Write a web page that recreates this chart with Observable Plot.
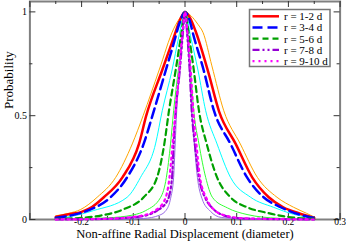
<!DOCTYPE html>
<html><head><meta charset="utf-8">
<script src="https://cdn.jsdelivr.net/npm/d3@7"></script>
<script src="https://cdn.jsdelivr.net/npm/@observablehq/plot@0.6"></script>
<style>body{margin:0;background:#fff}#chart{width:346px;height:244px}</style>
</head><body><div id="chart"></div>
<script>
// ---- data ----
const xLabelTicks = [-0.2, -0.1, 0, 0.1, 0.2, 0.3];
const xMajorTicks = [-0.3, -0.2, -0.1, 0, 0.1, 0.2, 0.3];
const xMinorTicks = [-0.25, -0.15, -0.05, 0.05, 0.15, 0.25];
const yLabelTicks = [0, 0.5, 1];
const yMinorTicks = [0.25, 0.75];
const xTitle = "Non-affine Radial Displacement (diameter)";
const yTitle = "Probability";

const orangeThin = [[-0.25,0.018],[-0.225,0.03],[-0.202,0.048],[-0.17,0.107],[-0.134,0.203],[-0.102,0.364],[-0.081,0.5],[-0.05,0.72],[-0.022,0.918],[-0.01,0.97],[0,1],[0.012,0.98],[0.025,0.94],[0.035,0.9],[0.052,0.74],[0.075,0.524],[0.107,0.364],[0.14,0.203],[0.178,0.107],[0.21,0.059],[0.235,0.03],[0.25,0.012]];
const r12 = [[-0.25,0.012],[-0.225,0.025],[-0.2,0.037],[-0.18,0.06],[-0.157,0.107],[-0.121,0.203],[-0.089,0.364],[-0.075,0.5],[-0.044,0.72],[-0.022,0.875],[-0.01,0.96],[0,1],[0.01,0.97],[0.02,0.91],[0.045,0.71],[0.066,0.52],[0.098,0.364],[0.13,0.203],[0.162,0.107],[0.19,0.059],[0.22,0.03],[0.25,0.008]];
const r34 = [[-0.25,0.008],[-0.22,0.02],[-0.186,0.045],[-0.144,0.107],[-0.112,0.203],[-0.08,0.364],[-0.063,0.5],[-0.037,0.72],[-0.022,0.847],[-0.01,0.95],[0,1],[0.01,0.95],[0.015,0.9],[0.036,0.72],[0.056,0.524],[0.088,0.364],[0.12,0.203],[0.152,0.107],[0.185,0.059],[0.22,0.025],[0.25,0.008]];
const cyanThin = [[-0.25,0.005],[-0.22,0.015],[-0.177,0.043],[-0.112,0.107],[-0.086,0.203],[-0.057,0.364],[-0.044,0.524],[-0.025,0.72],[-0.012,0.88],[0,1],[0.011,0.88],[0.025,0.72],[0.04,0.524],[0.062,0.364],[0.088,0.203],[0.127,0.107],[0.171,0.059],[0.21,0.025],[0.25,0.005]];
const r56 = [[-0.25,0.003],[-0.2,0.008],[-0.163,0.019],[-0.118,0.05],[-0.08,0.107],[-0.054,0.203],[-0.04,0.364],[-0.031,0.524],[-0.018,0.72],[-0.008,0.88],[0,1],[0.008,0.88],[0.017,0.72],[0.027,0.524],[0.042,0.364],[0.062,0.203],[0.088,0.107],[0.12,0.059],[0.159,0.032],[0.2,0.012],[0.25,0.003]];
const limeThin = [[-0.25,0.001],[-0.15,0.008],[-0.1,0.022],[-0.076,0.043],[-0.047,0.107],[-0.036,0.203],[-0.028,0.364],[-0.022,0.524],[-0.013,0.72],[-0.006,0.88],[0,1],[0.006,0.88],[0.011,0.72],[0.017,0.524],[0.027,0.364],[0.04,0.203],[0.053,0.107],[0.082,0.056],[0.12,0.024],[0.18,0.006],[0.25,0.001]];
const r78 = [[-0.25,0],[-0.15,0.003],[-0.112,0.008],[-0.075,0.02],[-0.054,0.043],[-0.034,0.091],[-0.025,0.203],[-0.022,0.364],[-0.018,0.524],[-0.01,0.72],[-0.004,0.9],[0,1],[0.004,0.9],[0.009,0.72],[0.013,0.524],[0.019,0.364],[0.027,0.203],[0.04,0.1],[0.055,0.05],[0.075,0.02],[0.11,0.005],[0.25,0]];
const lavenderThin = [[-0.25,0],[-0.12,0.002],[-0.08,0.005],[-0.05,0.02],[-0.035,0.05],[-0.028,0.1],[-0.022,0.203],[-0.019,0.364],[-0.016,0.524],[-0.01,0.72],[-0.004,0.9],[0,1],[0.004,0.9],[0.009,0.72],[0.013,0.524],[0.018,0.364],[0.024,0.203],[0.033,0.1],[0.049,0.04],[0.07,0.01],[0.12,0.002],[0.25,0]];
const r910 = [[-0.25,0],[-0.15,0.004],[-0.1,0.012],[-0.085,0.018],[-0.06,0.04],[-0.04,0.09],[-0.03,0.203],[-0.024,0.364],[-0.018,0.524],[-0.011,0.72],[-0.005,0.9],[0,1],[0.005,0.9],[0.011,0.72],[0.016,0.524],[0.022,0.364],[0.029,0.203],[0.042,0.1],[0.057,0.045],[0.08,0.018],[0.12,0.005],[0.25,0]];

const series = [
  {data: orangeThin,   color: "#ffa500", width: 1},
  {data: cyanThin,     color: "#00ffff", width: 1},
  {data: limeThin,     color: "#33ff33", width: 1},
  {data: lavenderThin, color: "#9a6ae6", width: 1},
  {data: r12,  label: "r = 1-2 d",  color: "#ff0000", width: 2.5},
  {data: r34,  label: "r = 3-4 d",  color: "#0000ff", width: 2.5, dash: "10,5"},
  {data: r56,  label: "r = 5-6 d",  color: "#00a000", width: 2.2, dash: "6,4"},
  {data: r78,  label: "r = 7-8 d",  color: "#9400d3", width: 2.2, dash: "7,3,2,3,2,3"},
  {data: r910, label: "r = 9-10 d", color: "#ff00ff", width: 2.2, dash: "2,4"}
];

// ---- layout ----
const W = 346, H = 244, mL = 29.4, mR = 6.4, mT = 1, mB = 25;
const innerW = W - mL - mR, innerH = H - mT - mB;
const font = "'Liberation Serif', 'Times New Roman', 'DejaVu Serif', serif";
const fmt = d => d === 0 ? "0" : String(+d.toFixed(2));
const tickStroke = "#333";

const plot = Plot.plot({
  width: W, height: H,
  marginLeft: mL, marginRight: mR, marginTop: mT, marginBottom: mB,
  style: {fontFamily: font, fontSize: "10px", background: "#fff", color: "#000"},
  x: {domain: [-0.3, 0.3]},
  y: {domain: [0, 1.05]},
  marks: [
    Plot.frame({stroke: "#808080", strokeWidth: 2}),
    Plot.tickX(xMajorTicks, {x: d => d, insetTop: innerH - 6, stroke: tickStroke}),
    Plot.tickX(xMinorTicks, {x: d => d, insetTop: innerH - 3, stroke: tickStroke}),
    Plot.tickX(xMajorTicks, {x: d => d, insetBottom: innerH - 6, stroke: tickStroke}),
    Plot.tickX(xMinorTicks, {x: d => d, insetBottom: innerH - 3, stroke: tickStroke}),
    Plot.tickY(yLabelTicks, {y: d => d, insetRight: innerW - 6, stroke: tickStroke}),
    Plot.tickY(yMinorTicks, {y: d => d, insetRight: innerW - 3, stroke: tickStroke}),
    Plot.tickY(yLabelTicks, {y: d => d, insetLeft: innerW - 6, stroke: tickStroke}),
    Plot.tickY(yMinorTicks, {y: d => d, insetLeft: innerW - 3, stroke: tickStroke}),
    Plot.axisX({ticks: xLabelTicks, tickSize: 0, tickPadding: -1, tickFormat: fmt, label: null, fontSize: 9.5, fontFamily: font}),
    Plot.axisY({ticks: yLabelTicks, tickSize: 0, tickPadding: 3, tickFormat: fmt, label: null, fontSize: 10, fontFamily: font}),
    ...series.map(s => Plot.line(s.data, {
      x: d => d[0], y: d => d[1], stroke: s.color, strokeWidth: s.width,
      strokeDasharray: s.dash, curve: "monotone-x"
    })),
    Plot.text([xTitle], {text: d => d, frameAnchor: "bottom", dy: 18.5, fontSize: 12.5, fontFamily: font}),
    Plot.text([yTitle], {text: d => d, frameAnchor: "left", dx: -21, dy: -1.5, rotate: -90, fontSize: 13, fontFamily: font})
  ]
});

// ---- legend ----
const svg = d3.select(plot);
const lg = svg.append("g");
lg.append("rect").attr("x", 249.5).attr("y", 9.5).attr("width", 80.5).attr("height", 57)
  .attr("fill", "#fff").attr("stroke", "#777").attr("stroke-width", 1.5);
series.filter(s => s.label).forEach((s, i) => {
  const y = 16.3 + i * 11.2;
  lg.append("line").attr("x1", 252.5).attr("x2", 279).attr("y1", y).attr("y2", y)
    .attr("stroke", s.color).attr("stroke-width", s.width)
    .attr("stroke-dasharray", s.dash || null);
  lg.append("text").attr("x", 284).attr("y", y).attr("dy", "0.35em")
    .attr("text-anchor", "start")
    .attr("font-family", font).attr("font-size", 11).attr("fill", "#000").text(s.label);
});

document.getElementById("chart").appendChild(plot);
</script>
</body></html>
